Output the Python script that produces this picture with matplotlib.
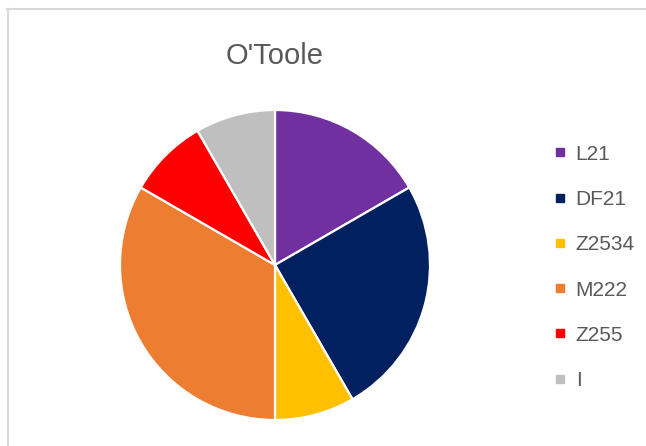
import matplotlib
matplotlib.use("Agg")
import matplotlib.pyplot as plt
from matplotlib.lines import Line2D

# Haplogroup shares for the O'Toole surname
labels = ["L21", "DF21", "Z2534", "M222", "Z255", "I"]
counts = [2, 3, 1, 4, 1, 1]
colors = ["#7030A0", "#002060", "#FFC000", "#ED7D31", "#FF0000", "#BFBFBF"]

W, H = 646, 446
fig = plt.figure(figsize=(W / 100, H / 100), dpi=100)
fig.patch.set_facecolor("white")

# chart-area border (only top and left edges fall inside the canvas)
fig.add_artist(Line2D([7 / W, 1], [1 - 9 / H, 1 - 9 / H], color="#D9D9D9", lw=1.5))
fig.add_artist(Line2D([8 / W, 8 / W], [0, 1 - 9 / H], color="#D9D9D9", lw=1.5))

cx, cy, r = 275, 265, 155
ax = fig.add_axes([(cx - r) / W, (H - cy - r) / H, 2 * r / W, 2 * r / H])
wedges, _ = ax.pie(counts, colors=colors, startangle=90, counterclock=False,
                   wedgeprops=dict(edgecolor="white", linewidth=1.6))
ax.set_aspect("equal")
ax.set_xlim(-1, 1)
ax.set_ylim(-1, 1)

fig.text(cx / W, 1 - 56 / H, "O'Toole", ha="center", va="center",
         fontsize=21, color="#595959", family="Liberation Sans")

handles = [Line2D([], [], marker="s", ls="", color=c, markersize=6) for c in colors]
fig.legend(handles, labels, loc="upper left", bbox_to_anchor=(535 / W, 1 - 126 / H),
           frameon=False, handlelength=0.6, handletextpad=0.45, labelspacing=1.26,
           prop=dict(family="Liberation Sans", size=15), labelcolor="#595959")

fig.savefig("out.png", dpi=100)
